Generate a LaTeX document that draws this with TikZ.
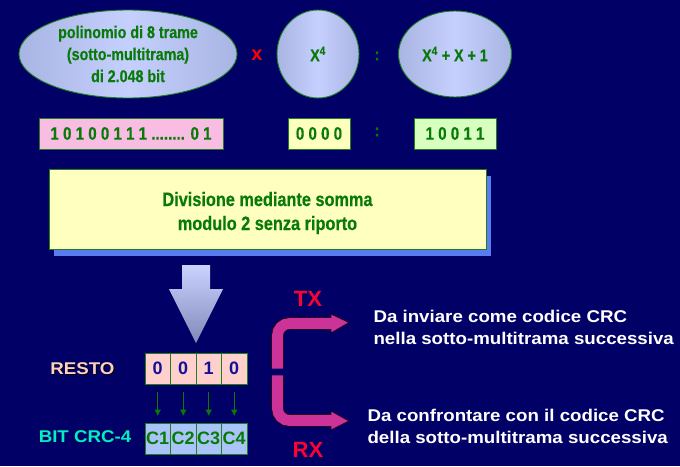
\documentclass[tikz,border=0pt]{standalone}
\usepackage{fontspec}
\setmainfont{Liberation Sans}
\newfontfamily\condensed{Liberation Sans}[FakeStretch=0.84, FakeBold=0.5]
\newfontfamily\widefont{Liberation Sans}[FakeStretch=1.1]
\usetikzlibrary{shapes.geometric,arrows.meta,shadows}

\definecolor{bgnavy}{HTML}{000066}
\definecolor{textgreen}{HTML}{087A08}
\definecolor{edgegreen}{HTML}{1E7F1E}
\definecolor{ovalside}{HTML}{A8B4E2}
\definecolor{ovalmid}{HTML}{C6D0FF}
\definecolor{pinkfill}{HTML}{F9BDE3}
\definecolor{paleyellow}{HTML}{FFFFC0}
\definecolor{palegreen}{HTML}{D9FFC0}
\definecolor{shadowblue}{HTML}{5B7CF0}
\definecolor{restofill}{HTML}{FFD0CC}
\definecolor{crcfill}{HTML}{AAC4F8}
\definecolor{digitblue}{HTML}{121296}
\definecolor{pipemagenta}{HTML}{CC3399}
\definecolor{pipeedge}{HTML}{2A0020}
\definecolor{signalred}{HTML}{FF0033}
\definecolor{restolabel}{HTML}{FFD0C0}
\definecolor{crclabel}{HTML}{00F0C0}
\definecolor{arrowtop}{HTML}{CAD4FF}
\definecolor{arrowbottom}{HTML}{8088B8}

\tikzset{
  lens/.style={ellipse, draw=edgegreen, line width=0.9pt, inner sep=0pt,
    left color=ovalside, right color=ovalside, middle color=ovalmid,
    text=textgreen, align=center,
    font=\condensed\bfseries\fontsize{17}{22}\selectfont},
  bitbox/.style={rectangle, draw=edgegreen, line width=0.9pt, inner sep=0pt,
    minimum height=31pt, text=textgreen,
    font=\condensed\bfseries\fontsize{18}{20}\selectfont},
  cell/.style={rectangle, draw=edgegreen, line width=0.9pt, inner sep=0pt,
    minimum width=25.5pt, minimum height=31pt,
    font=\bfseries\fontsize{18}{20}\selectfont},
  restocell/.style={cell, fill=restofill, text=digitblue},
  crccell/.style={cell, fill=crcfill, text=textgreen},
  bitarrow/.style={draw=textgreen, line width=1pt,
    -{Triangle[length=6pt,width=6pt]}, shorten <=8pt, shorten >=7pt},
  operator/.style={font=\condensed\bfseries\fontsize{17}{20}\selectfont},
  signal/.style={text=signalred, font=\bfseries\fontsize{22}{24}\selectfont},
  note/.style={text=white, align=left, anchor=west,
    font=\widefont\bfseries\fontsize{17}{22}\selectfont},
  sidelabel/.style={font=\widefont\bfseries\fontsize{17}{20}\selectfont},
}

\begin{document}
\begin{tikzpicture}[x=1pt,y=-1pt]
  \useasboundingbox (0,0) rectangle (680,466);
  \fill[bgnavy] (0,0) rectangle (680,466);

  % polynomial terms
  \node[lens, minimum width=218pt, minimum height=88pt] (poly) at (128,54)
    {polinomio di 8 trame\\(sotto-multitrama)\\di 2.048 bit};
  \node[text=red, font=\bfseries\fontsize{20}{22}\selectfont] (times) at (257,55) {x};
  \node[lens, minimum width=82pt, minimum height=88pt] (xfour) at (318,54)
    {X\textsuperscript{4}};
  \node[operator, text=textgreen] (colon1) at (377,56) {:};
  \node[lens, minimum width=113pt, minimum height=86pt] (gen) at (455,54)
    {X\textsuperscript{4} + X + 1};

  % bit strings
  \node[bitbox, fill=pinkfill, minimum width=184pt] (frame) at (131,133.5)
    {1 0 1 0 0 1 1 1 ........ 0 1};
  \node[bitbox, fill=paleyellow, minimum width=62pt] (zeros) at (319,133.5)
    {0 0 0 0};
  \node[operator, text=textgreen] (colon2) at (377,132) {:};
  \node[bitbox, fill=palegreen, minimum width=82pt] (genbits) at (455,133.5)
    {1 0 0 1 1};

  % division box, its text sits a little below the middle
  \node[rectangle, draw=edgegreen, line width=0.9pt, fill=paleyellow,
    minimum width=437pt, minimum height=80pt,
    drop shadow={shadow xshift=5pt, shadow yshift=-7pt, fill=shadowblue, opacity=1}]
    (div) at (267.5,209) {};
  \node[text=textgreen, align=center,
    font=\condensed\bfseries\fontsize{19.4}{24}\selectfont]
    (divtext) at (267.5,213) {Divisione mediante somma\\modulo 2 senza riporto};

  % down arrow
  \shade[top color=arrowtop, bottom color=arrowbottom]
    (182,265) -- (210,265) -- (210,289) -- (223,289) -- (196,343)
    -- (169,289) -- (182,289) -- cycle;

  % remainder and CRC bits
  \foreach \i/\v [evaluate=\i as \cx using 145+25.5*(\i-0.5)] in {1/0,2/0,3/1,4/0} {
    \node[restocell] (r\i) at (\cx,368.5) {\v};
    \node[crccell] (c\i) at (\cx,438.5) {C\i};
    \draw[bitarrow] (r\i) -- (c\i);
  }
  \node[sidelabel, text=black] at (83.3,369.3) {RESTO};
  \node[sidelabel, text=restolabel] (resto) at (82.5,368.5) {RESTO};
  \node[sidelabel, text=crclabel] (crc) at (85,437) {BIT CRC-4};

  % destinations
  \node[note] (send) at (370,327)
    {Da inviare come codice CRC\\nella sotto-multitrama successiva};
  \node[note] (check) at (364,426)
    {Da confrontare con il codice CRC\\della sotto-multitrama successiva};
  \node[signal] (tx) at (308,299) {TX};
  \node[signal] (rx) at (308,450) {RX};

  % TX and RX pipes
  \coordinate (txfoot) at (277.5,367.8);
  \coordinate (txneck) at (331,323.5);
  \coordinate (txtip) at (349,322.5);
  \coordinate (rxtop) at (277.5,376.2);
  \coordinate (rxneck) at (331,420.5);
  \coordinate (rxtip) at (349,421);
  \foreach \foot/\neck/\tip/\dy in {txfoot/txneck/txtip/-0.8, rxtop/rxneck/rxtip/0.8} {
    \draw[pipeedge, line width=12.6pt, rounded corners=12pt] (\foot) |- (\neck);
    \filldraw[fill=pipemagenta, draw=pipeedge, line width=0.8pt]
      ([yshift=-9.5pt]\neck) -- (\tip) -- ([yshift=9.5pt]\neck) -- cycle;
    \draw[pipemagenta, line width=10.8pt, rounded corners=12pt]
      ([yshift=\dy pt]\foot) |- ([xshift=2pt]\neck);
  }
\end{tikzpicture}
\end{document}
